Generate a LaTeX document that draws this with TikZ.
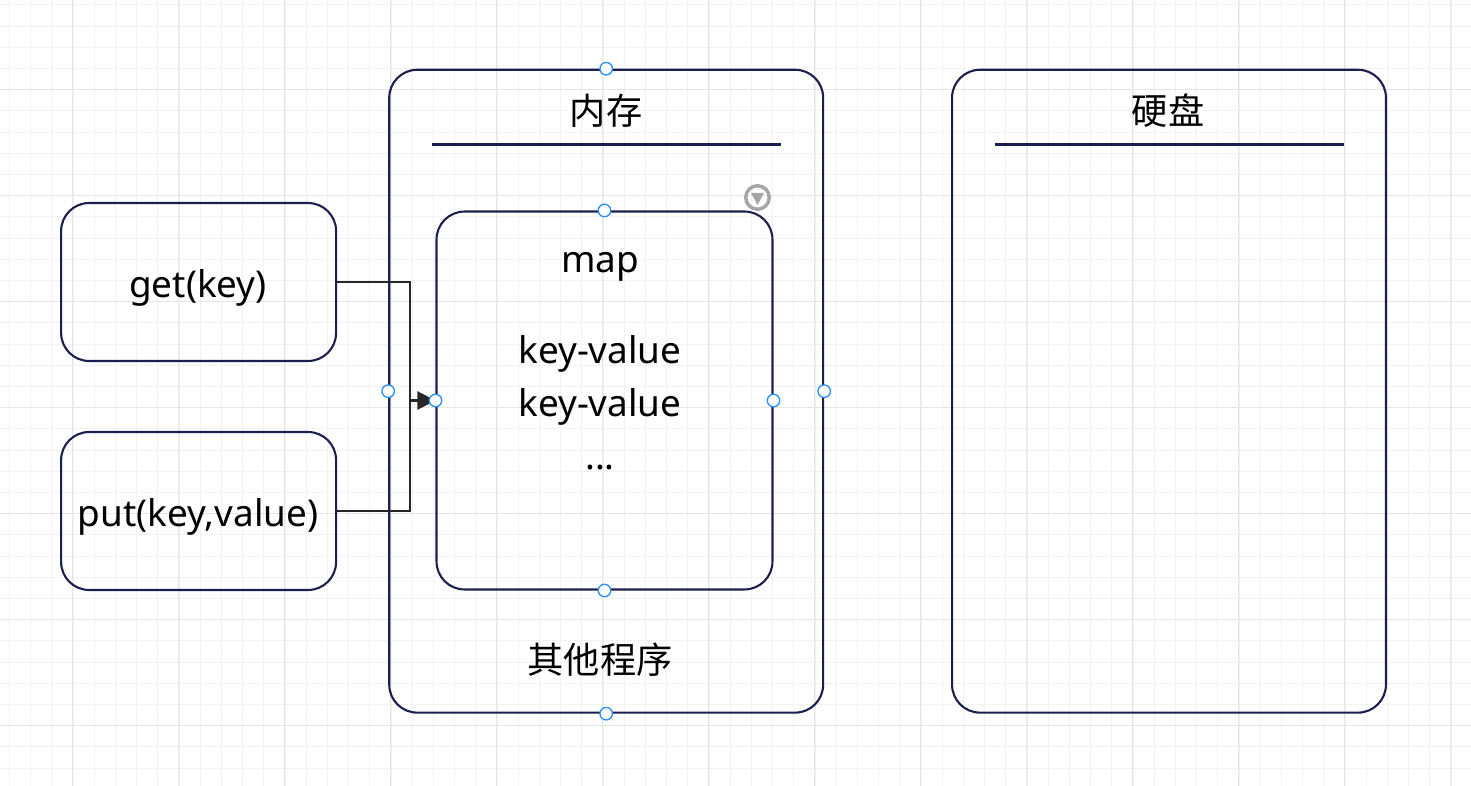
\documentclass[tikz,border=0pt]{standalone}
\usepackage{fontspec}
\setmainfont{Noto Sans}
\newfontfamily\cjk{Noto Sans CJK SC}
\usepackage{xcolor}
\usetikzlibrary{arrows.meta}
\definecolor{boxline}{HTML}{1B1F4E}
\definecolor{handleblue}{HTML}{2E90FA}
\tikzset{
    box/.style={draw=boxline,line width=0.042cm,rounded corners=0.56cm,fill=none,inner sep=0pt},
    label/.style={font=\fontsize{21pt}{25pt}\selectfont,inner sep=0pt,text=black},
    cjklabel/.style={font=\fontsize{20.6pt}{25pt}\selectfont\cjk,inner sep=0pt,text=black},
    handle/.style={circle,draw=handleblue,fill=white,line width=0.027cm,minimum size=0.25cm,inner sep=0pt},
    link/.style={draw=black!85,line width=0.042cm}
}
\begin{document}
\begin{tikzpicture}[x=0.02cm,y=-0.02cm]
    \useasboundingbox (0,0) rectangle (1471,786);
    \fill[white] (0,0) rectangle (1471,786);

    % grid
    \foreach \k in {0,...,69} {
        \pgfmathsetmacro{\gx}{9.5+21.2*\k}
        \draw[black!5,line width=0.02cm] (\gx,0) -- (\gx,786);
    }
    \foreach \k in {0,...,36} {
        \pgfmathsetmacro{\gy}{5+21.2*\k}
        \draw[black!5,line width=0.02cm] (0,\gy) -- (1471,\gy);
    }
    \foreach \k in {0,...,13} {
        \pgfmathsetmacro{\gx}{72.5+106*\k}
        \draw[black!10,line width=0.02cm] (\gx,0) -- (\gx,786);
    }
    \foreach \k in {0,...,6} {
        \pgfmathsetmacro{\gy}{90+106*\k}
        \draw[black!10,line width=0.02cm] (0,\gy) -- (1471,\gy);
    }

    % boxes
    \node[box,minimum width=5.5cm,minimum height=3.16cm] (getbox) at (198.6,282) {};
    \node[box,minimum width=5.5cm,minimum height=3.16cm] (putbox) at (198.6,511) {};
    \node[box,minimum width=8.68cm,minimum height=12.86cm] (membox) at (606.2,391.2) {};
    \node[box,minimum width=8.68cm,minimum height=12.86cm] (diskbox) at (1169,391.2) {};
    \node[box,minimum width=6.72cm,minimum height=7.56cm] (mapbox) at (604.5,400.5) {};

    % separators
    \coordinate (memleft) at (432,144.5);
    \coordinate (memright) at (780.5,144.5);
    \coordinate (diskleft) at (995,144.5);
    \coordinate (diskright) at (1343.5,144.5);
    \draw[boxline,line width=0.042cm] (memleft) -- (memright);
    \draw[boxline,line width=0.042cm] (diskleft) -- (diskright);

    % texts
    \node[label] (gettext) at (198,288) {get(key)};
    \node[label] (puttext) at (198,517) {put(key,value)};
    \node[cjklabel] (memtext) at (606,110.5) {内存};
    \node[cjklabel] (disktext) at (1168,110.5) {硬盘};
    \node[label] (maptext) at (600,267) {map};
    \node[label] (kvone) at (600,354) {key-value};
    \node[label] (kvtwo) at (600,407) {key-value};
    \node[label] (dots) at (600,468) {...};
    \node[cjklabel] (othertext) at (600,660) {其他程序};

    % connectors
    \draw[link] (getbox.east) -- ++(72.5,0) |- (mapbox.west);
    \draw[link,-{Triangle[length=0.36cm,width=0.36cm]}] (putbox.east) -- ++(72.5,0) |- (mapbox.west);

    % handles
    \node[handle] (memn) at (membox.north) {};
    \node[handle] (mems) at (membox.south) {};
    \node[handle] (memw) at (membox.west) {};
    \node[handle] (meme) at (membox.east) {};
    \node[handle] (mapn) at (mapbox.north) {};
    \node[handle] (maps) at (mapbox.south) {};
    \node[handle] (mapw) at (mapbox.west) {};
    \node[handle] (mape) at (mapbox.east) {};

    % menu icon
    \node[circle,draw=black!35,line width=0.07cm,minimum size=0.47cm,inner sep=0pt] (menuicon) at (757.5,197.5) {};
    \fill[black!35] (751,193) -- (764,193) -- (757.5,205) -- cycle;
\end{tikzpicture}
\end{document}
